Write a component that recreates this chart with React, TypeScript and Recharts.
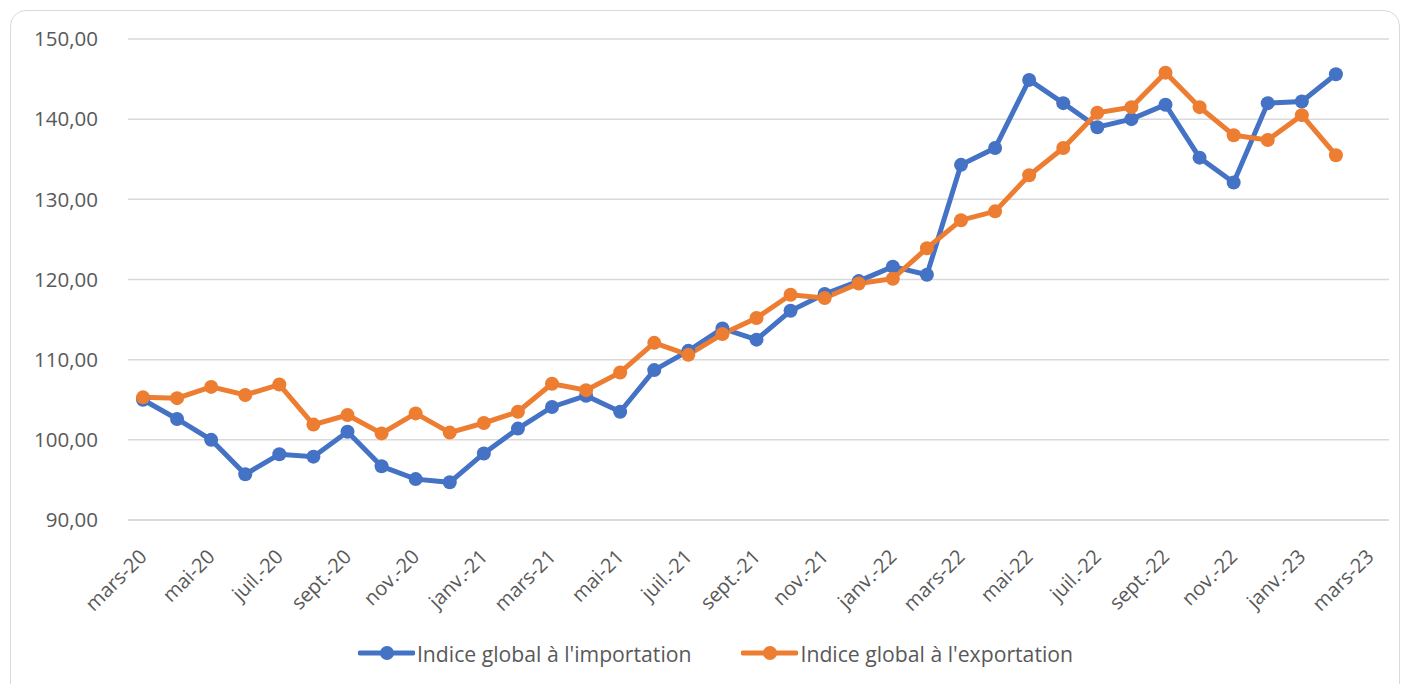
import { LineChart, Line, XAxis, YAxis, CartesianGrid, Legend } from "recharts";

// mois (axe des catégories), mars-20 -> mars-23
const mois = [
  "mars-20", "avr.-20", "mai-20", "juin-20", "juil.-20", "août-20", "sept.-20", "oct.-20", "nov.-20", "déc.-20",
  "janv.-21", "févr.-21", "mars-21", "avr.-21", "mai-21", "juin-21", "juil.-21", "août-21", "sept.-21", "oct.-21", "nov.-21", "déc.-21",
  "janv.-22", "févr.-22", "mars-22", "avr.-22", "mai-22", "juin-22", "juil.-22", "août-22", "sept.-22", "oct.-22", "nov.-22", "déc.-22",
  "janv.-23", "févr.-23", "mars-23",
];

const importation = [
  105.0, 102.6, 100.0, 95.7, 98.2, 97.9, 101.0, 96.7, 95.1, 94.7,
  98.3, 101.4, 104.1, 105.5, 103.5, 108.7, 111.1, 113.9, 112.5, 116.1, 118.2, 119.8,
  121.6, 120.6, 134.3, 136.4, 144.9, 142.0, 139.0, 140.0, 141.8, 135.2, 132.1, 142.0,
  142.2, 145.6, null,
];

const exportation = [
  105.3, 105.2, 106.6, 105.6, 106.9, 101.9, 103.1, 100.8, 103.3, 100.9,
  102.1, 103.5, 107.0, 106.2, 108.4, 112.1, 110.6, 113.2, 115.2, 118.1, 117.7, 119.5,
  120.1, 123.9, 127.4, 128.5, 133.0, 136.4, 140.8, 141.5, 145.8, 141.5, 138.0, 137.4,
  140.5, 135.5, null,
];

const yTicks = [90, 100, 110, 120, 130, 140, 150];

const series = ["Indice global à l'importation", "Indice global à l'exportation"];

const data = mois.map((m, i) => ({ mois: m, imp: importation[i], exp: exportation[i] }));

const BLEU = "#4472C4";
const ORANGE = "#ED7D31";
const GRIS = "#595959";
const FONT = "'Open Sans', sans-serif";

function AxisTick(props: any) {
  const { x, y, payload } = props;
  return (
    <g transform={`translate(${x + 5},${y + 38})`}>
      <text x={0} y={0} textAnchor="end" transform="rotate(-45)" fill={GRIS} fontSize={20} fontFamily={FONT}>
        {payload.value}
      </text>
    </g>
  );
}

function LegendContent(props: any) {
  // garder l'ordre des séries (recharts trie par défaut)
  const items = [...(props.payload || [])].sort(
    (a: any, b: any) => series.indexOf(a.value) - series.indexOf(b.value)
  );
  return (
    <div style={{ height: 30, display: "flex", justifyContent: "center", alignItems: "center", paddingLeft: 26, gap: 50 }}>
      {items.map((it: any) => (
        <div key={it.value} style={{ display: "flex", alignItems: "center" }}>
          <svg width={57} height={20}>
            <line x1={2} y1={10} x2={55} y2={10} stroke={it.color} strokeWidth={5} strokeLinecap="round" />
            <circle cx={29} cy={10} r={7} fill={it.color} />
          </svg>
          <span style={{ fontFamily: FONT, fontSize: 21.2, color: GRIS, marginLeft: 2 }}>{it.value}</span>
        </div>
      ))}
    </div>
  );
}

export default function App() {
  return (
    <div style={{ position: "absolute", left: 0, top: 0, width: 1405, height: 684, overflow: "hidden", background: "#fff" }}>
      <div
        style={{
          position: "absolute",
          left: 10,
          top: 10,
          width: 1390,
          height: 720,
          border: "1.5px solid #d9d9d9",
          borderRadius: 16,
          boxSizing: "border-box",
        }}
      />
      <div style={{ position: "absolute", left: 0, top: 0 }}>
        <LineChart width={1405} height={684} data={data} margin={{ top: 39, right: 16, bottom: 16, left: 0 }}>
          <CartesianGrid vertical={false} stroke="#d9d9d9" strokeWidth={1.5} />
          <XAxis
            dataKey="mois"
            interval={1}
            padding={{ left: 15, right: 19 }}
            height={118}
            tickSize={0}
            tickMargin={0}
            axisLine={{ stroke: "#d9d9d9", strokeWidth: 1.5 }}
            tickLine={false}
            tick={<AxisTick />}
          />
          <YAxis
            domain={[90, 150]}
            ticks={yTicks}
            width={128}
            axisLine={false}
            tickLine={false}
            tickSize={0}
            tickMargin={30}
            tick={{ fill: GRIS, fontSize: 20.5, fontFamily: FONT }}
            tickFormatter={(v: number) => v.toFixed(2).replace(".", ",")}
          />
          <Legend verticalAlign="bottom" content={<LegendContent />} wrapperStyle={{ bottom: 16, left: 0, width: 1405 }} />
          <Line
            type="linear"
            dataKey="imp"
            name={series[0]}
            stroke={BLEU}
            strokeWidth={5}
            dot={{ r: 7, fill: BLEU, stroke: BLEU, strokeWidth: 0 }}
            activeDot={false}
            isAnimationActive={false}
          />
          <Line
            type="linear"
            dataKey="exp"
            name={series[1]}
            stroke={ORANGE}
            strokeWidth={5}
            dot={{ r: 7, fill: ORANGE, stroke: ORANGE, strokeWidth: 0 }}
            activeDot={false}
            isAnimationActive={false}
          />
        </LineChart>
      </div>
    </div>
  );
}
